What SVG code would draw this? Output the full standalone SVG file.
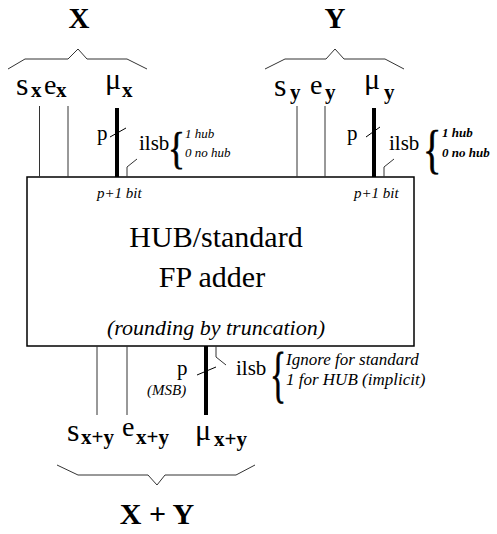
<svg xmlns="http://www.w3.org/2000/svg" width="497" height="534" viewBox="0 0 497 534">
  <style>
    text { font-family: "Liberation Serif", "Times New Roman", serif; fill: #000; }
    .title { font-size: 29px; font-weight: bold; text-anchor: middle; }
    .s { font-size: 32px; }
    .e { font-size: 28px; }
    .mu { font-size: 30px; }
    .sub { font-size: 21px; font-weight: bold; }
    .lbl { font-size: 21px; }
    .note { font-size: 13px; font-style: italic; }
    .noteb { font-size: 13px; font-style: italic; font-weight: bold; }
    .ital { font-size: 15px; font-style: italic; }
    .big { font-size: 30px; text-anchor: middle; }
    .mid { font-size: 22px; font-style: italic; text-anchor: middle; }
    .curly { stroke: #000; stroke-width: 0.7; }
    .brace { fill: none; stroke: #333; stroke-width: 1; }
    .wire { fill: none; stroke: #333; stroke-width: 1; }
    .bus { fill: none; stroke: #000; stroke-width: 4; }
    .tick { fill: none; stroke: #000; stroke-width: 1; }
  </style>

  <!-- operand X -->
  <g id="operand-x">
    <text class="title" x="79" y="28">X</text>
    <polyline class="brace" points="8,69 25,59 68,59 78,49 87,59 127,59 147,69"/>
    <text class="s" x="16" y="95">s</text>
    <text class="sub" x="31" y="97">x</text>
    <text class="e" x="44" y="94">e</text>
    <text class="sub" x="56" y="97">x</text>
    <text class="mu" x="105" y="89">μ</text>
    <text class="sub" x="122" y="97">x</text>
    <text class="lbl" x="97" y="140">p</text>
    <text class="lbl" x="139" y="150">ilsb</text>
    <text class="curly" transform="translate(168,163) scale(0.8,1)" style="font-size:44px">{</text>
    <text class="note" x="185" y="138">1 hub</text>
    <text class="note" x="185" y="157">0 no hub</text>
  </g>

  <!-- operand Y -->
  <g id="operand-y">
    <text class="title" x="335" y="28">Y</text>
    <polyline class="brace" points="265,69 285,59 326,59 335,49 344,59 385,59 404,69"/>
    <text class="s" x="274" y="96">s</text>
    <text class="sub" x="290" y="99">y</text>
    <text class="e" x="310" y="94">e</text>
    <text class="sub" x="325" y="99">y</text>
    <text class="mu" x="364" y="89">μ</text>
    <text class="sub" x="384" y="99">y</text>
    <text class="lbl" x="347" y="140">p</text>
    <text class="lbl" x="389" y="150">ilsb</text>
    <text class="curly" transform="translate(423,167) scale(0.72,1)" style="font-size:53px">{</text>
    <text class="noteb" x="442" y="137">1 hub</text>
    <text class="noteb" x="442" y="157">0 no hub</text>
  </g>

  <!-- adder block -->
  <g id="adder">
    <rect x="27" y="177" width="387" height="169" fill="#fff" stroke="#000" stroke-width="1.5"/>
    <text class="ital" x="97" y="198">p+1 bit</text>
    <text class="ital" x="354" y="198">p+1 bit</text>
    <text class="big" x="216" y="247">HUB/standard</text>
    <text class="big" x="212" y="287">FP adder</text>
    <text class="mid" x="216" y="335">(rounding by truncation)</text>
  </g>

  <!-- result X + Y -->
  <g id="result">
    <text class="lbl" x="177" y="375">p</text>
    <text class="ital" x="147" y="395">(MSB)</text>
    <text class="lbl" x="236" y="375">ilsb</text>
    <text class="curly" transform="translate(270,395) scale(0.55,1)" style="font-size:61px">{</text>
    <text class="ital" x="286" y="365" style="font-size:17px">Ignore for standard</text>
    <text class="ital" x="286" y="385" style="font-size:17px">1 for HUB (implicit)</text>
    <text class="s" x="67" y="441">s</text>
    <text class="sub" x="81" y="444">x+y</text>
    <text class="e" x="122" y="436">e</text>
    <text class="sub" x="136" y="444">x+y</text>
    <text class="mu" x="195" y="440">μ</text>
    <text class="sub" x="214" y="446">x+y</text>
    <polyline class="brace" points="57,465 78,475 148,475 157,485 165,475 236,475 255,465"/>
    <text class="title" x="157" y="524" style="font-size:30px">X + Y</text>
  </g>

  <!-- connectors -->
  <g id="connectors">
    <line class="wire" x1="39.5" y1="106" x2="39.5" y2="177"/>
    <line class="wire" x1="68" y1="106" x2="68" y2="177"/>
    <line class="bus" x1="117" y1="108" x2="117" y2="177"/>
    <line class="tick" x1="110" y1="137" x2="126" y2="128"/>
    <polyline class="wire" points="137,159 127,167 127,177"/>

    <line class="wire" x1="297" y1="106" x2="297" y2="177"/>
    <line class="wire" x1="325" y1="106" x2="325" y2="177"/>
    <line class="bus" x1="374" y1="108" x2="374" y2="177"/>
    <line class="tick" x1="366" y1="137" x2="380" y2="127"/>
    <polyline class="wire" points="394,159 384,167 384,177"/>

    <line class="wire" x1="97" y1="346" x2="97" y2="415"/>
    <line class="wire" x1="127" y1="346" x2="127" y2="415"/>
    <line class="bus" x1="206" y1="346" x2="206" y2="415"/>
    <line class="tick" x1="197" y1="375" x2="216" y2="367"/>
    <polyline class="wire" points="216,346 216,357 226,365"/>
  </g>
</svg>
